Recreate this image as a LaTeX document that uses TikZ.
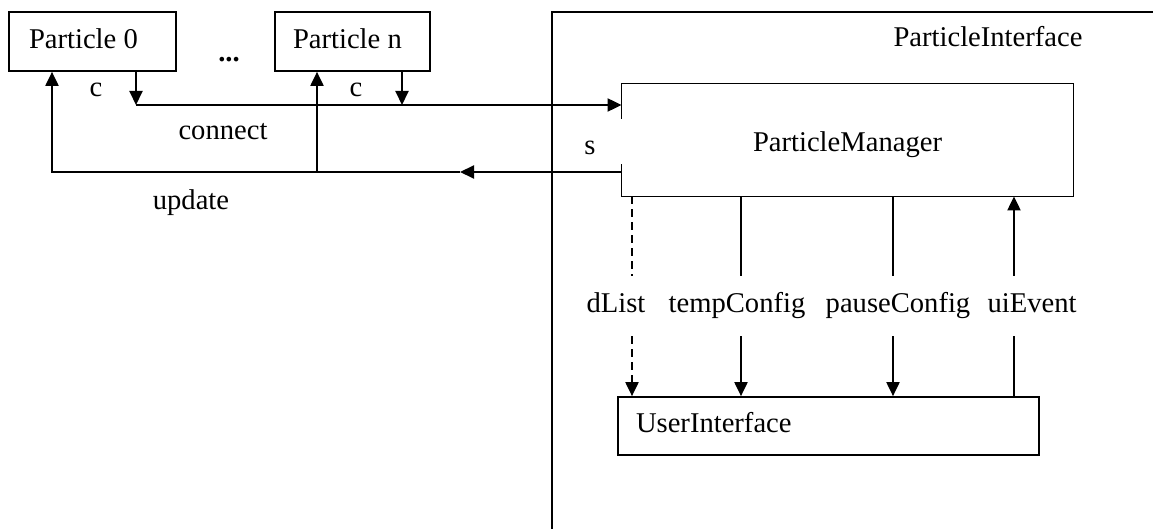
\documentclass[tikz,border=0pt]{standalone}
\usepackage{fontspec}
\setmainfont{Liberation Serif}
\usetikzlibrary{arrows.meta}

\begin{document}
\begin{tikzpicture}[x=0.5pt,y=-0.5pt,
		every node/.style={font=\fontsize{14.3}{17}\selectfont, text height=10pt, text depth=3pt, inner sep=0pt},
		box/.style={draw, line width=0.85pt},
		line/.style={line width=1pt},
		conn/.style={line width=1pt, -{Triangle[length=7pt,width=6.5pt]}},
		flow/.style={minimum height=30pt}]
		%\draw[help lines] (0,0) grid (1153,529);
		\useasboundingbox (0,0) rectangle (1153,529);
		\draw[box] (1153,12) -- (552,12) -- (552,529);
		\node (pi) at (988,40) {ParticleInterface};
		\node[box, minimum height=29.5pt, text width=63.5pt, inner xsep=10pt, align=flush left] (p0) at (92.5,41.5) {Particle 0};
		\node[box, minimum height=29.5pt, text width=59.5pt, inner xsep=9pt, align=flush left] (pn) at (352.5,41.5) {Particle n};
		\node (dots) at (229,55) {\textbf{...}};
		\node[minimum width=225.5pt, minimum height=56pt, text height=15pt] (pm) at (847.5,140) {ParticleManager};
		\draw[box] (pm.north west) ++(0,35) -- (pm.north west) -- (pm.north east) -- (pm.south east) -- (pm.south west) -- ++(0,-32);
		\node[box, minimum width=210.5pt, minimum height=29pt, text width=192.5pt, inner xsep=9pt, align=flush left] (ui) at (828.5,426) {UserInterface};
		% connect
		\coordinate (c0) at (136,105);
		\coordinate (cn) at (402,105);
		\draw[conn] (p0.south -| c0) -- (c0);
		\draw[conn] (pn.south -| cn) -- (cn);
		\draw[conn] (c0) -- (c0 -| pm.west);
		\node at (96,90) {c};
		\node at (356,90) {c};
		\node at (223,133) {connect};
		% update
		\coordinate (u0) at (52,172);
		\coordinate (un) at (317,172);
		\coordinate (upd) at (460,172);
		\draw[conn] (upd -| pm.west) -- (upd);
		\draw[conn] (upd) -- (u0) -- (p0.south -| u0);
		\draw[conn] (un) -- (pn.south -| un);
		\node at (191,203) {update};
		\node (s) at (590,148) {s};
		% manager <-> user interface
		\foreach \n/\x in {dlist/632,temp/741,pause/893,uiev/1014} {
			\coordinate (x\n) at (\x,0);
		}
		\node[flow] (dlist) at (616,306) {dList};
		\node[flow] (temp) at (737,306) {tempConfig};
		\node[flow] (pause) at (898,306) {pauseConfig};
		\node[flow] (uiev) at (1032,306) {uiEvent};
		\draw[line, dash pattern=on 4pt off 2.5pt] (pm.south -| xdlist) -- (dlist.north -| xdlist);
		\draw[conn, dash pattern=on 4pt off 2.5pt] (dlist.south -| xdlist) -- (ui.north -| xdlist);
		\foreach \n in {temp,pause} {
			\draw[line] (pm.south -| x\n) -- (\n.north -| x\n);
			\draw[conn] (\n.south -| x\n) -- (ui.north -| x\n);
		}
		\draw[line] (ui.north -| xuiev) -- (uiev.south -| xuiev);
		\draw[conn] (uiev.north -| xuiev) -- (pm.south -| xuiev);
\end{tikzpicture}
\end{document}
